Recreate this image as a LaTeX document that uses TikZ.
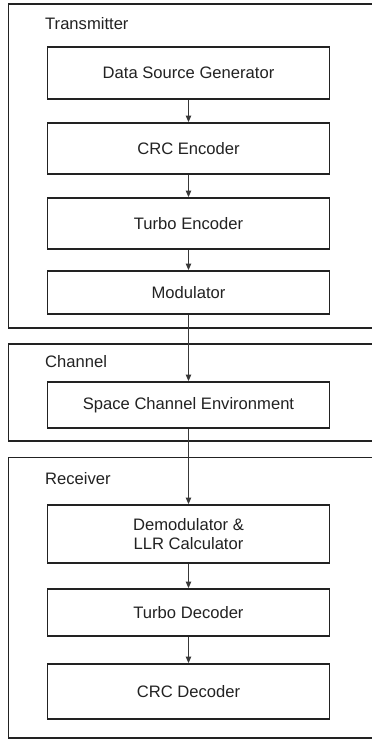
\documentclass[tikz,border=0pt]{standalone}
\usepackage{fontspec}
\setmainfont{Liberation Sans}
\usetikzlibrary{arrows.meta}
\definecolor{ink}{HTML}{222222}
\begin{document}
\begin{tikzpicture}[x=1pt,y=-1pt,
  every node/.style={font=\fontsize{16.6}{19.5}\selectfont, text=ink, inner sep=0pt},
  groupbox/.style={draw=ink, line width=1.9pt, minimum width=381.5pt},
  stagebox/.style={draw=ink, line width=1.9pt, minimum width=282pt, align=center},
  grouplabel/.style={anchor=west},
  flow/.style={draw=ink!90, line width=1pt, -{Triangle[length=6.5pt,width=5.5pt]}}
]
\useasboundingbox (0,0) rectangle (372,739);
\clip (0,0) rectangle (372,739);
\fill[white] (0,0) rectangle (372,739);

% group frames (they run past the right edge)
\node[groupbox, minimum height=324pt]   (tx) at (199.25,166) {};
\node[groupbox, minimum height=97pt]    (ch) at (199.25,392.5) {};
\node[groupbox, minimum height=280.5pt] (rx) at (199.25,597.75) {};

\node[grouplabel] (txl) at (45,24)  {Transmitter};
\node[grouplabel] (chl) at (45,362) {Channel};
\node[grouplabel] (rxl) at (45,479) {Receiver};

% processing stages
\node[stagebox, minimum height=52pt] (dsg) at (188.5,73)    {Data Source Generator};
\node[stagebox, minimum height=51pt] (crce) at (188.5,148.5) {CRC Encoder};
\node[stagebox, minimum height=51pt] (tenc) at (188.5,223.5) {Turbo Encoder};
\node[stagebox, minimum height=43pt] (mod) at (188.5,292.5)  {Modulator};
\node[stagebox, minimum height=46pt] (sce) at (188.5,405)    {Space Channel Environment};
\node[stagebox, minimum height=58pt] (dem) at (188.5,534)    {Demodulator \&\\LLR Calculator};
\node[stagebox, minimum height=47pt] (tdec) at (188.5,612.5) {Turbo Decoder};
\node[stagebox, minimum height=55pt] (crcd) at (188.5,691.5) {CRC Decoder};

% signal flow
\draw[flow] (dsg.south) -- (crce.north);
\draw[flow] (crce.south) -- (tenc.north);
\draw[flow] (tenc.south) -- (mod.north);
\draw[flow] (mod.south) -- (sce.north);
\draw[flow] (sce.south) -- (dem.north);
\draw[flow] (dem.south) -- (tdec.north);
\draw[flow] (tdec.south) -- (crcd.north);
\end{tikzpicture}
\end{document}
